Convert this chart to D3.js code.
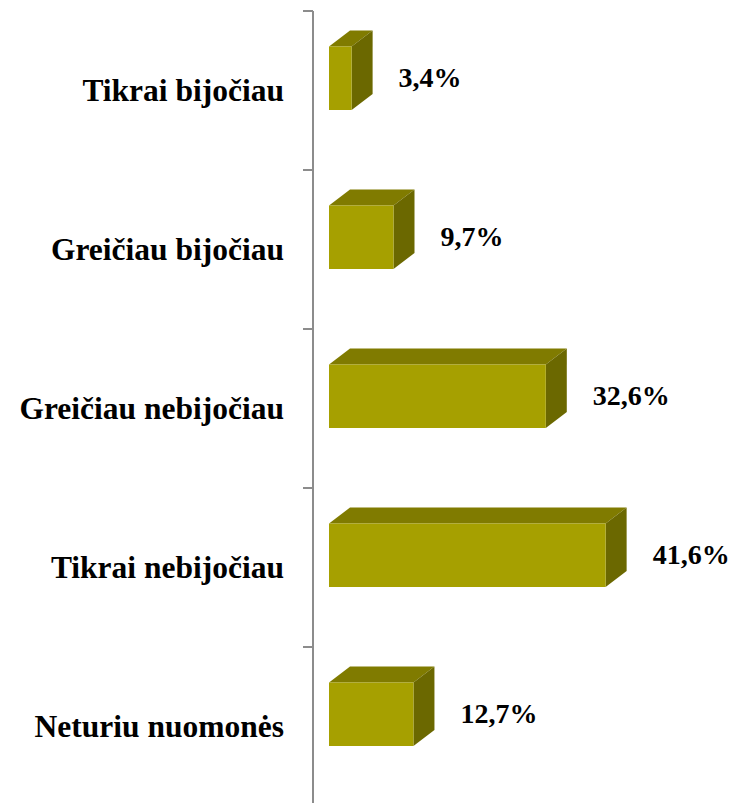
<!DOCTYPE html>
<html>
<head>
<meta charset="utf-8">
<script src="https://cdn.jsdelivr.net/npm/d3@7"></script>
<style>
  html, body { margin: 0; padding: 0; background: #fff; }
  svg { display: block; }
  text { font-family: "Liberation Serif", "Times New Roman", serif; font-weight: 700; }
</style>
</head>
<body>
<div class="chart"></div>
<script>
// Data
const categories = ["Tikrai bijočiau", "Greičiau bijočiau", "Greičiau nebijočiau", "Tikrai nebijočiau", "Neturiu nuomonės"];
const values = [3.4, 9.7, 32.6, 41.6, 12.7];
const valueLabels = ["3,4%", "9,7%", "32,6%", "41,6%", "12,7%"];

// Sizing
const width = 730;
const height = 803;
const axisX = 313;
const depth = {dx: 21, dy: 16};
const barOffset = 35.5, barHeight = 63.5;

const svg = d3.select(".chart").append("svg")
  .attr("width", width)
  .attr("height", height);

// Scales
const xScale = d3.scaleLinear().domain([0, 50]).range([329, 329 + 50 * 6.65]);
const yScale = d3.scaleBand().domain(categories).range([11, 806]).padding(0);

// Category axis (left)
const yAxis = d3.axisLeft(yScale).tickSize(0).tickPadding(0).tickFormat("");
const g_yAxis = svg.append("g")
  .attr("class", "y axis")
  .attr("transform", `translate(${axisX},0)`)
  .call(yAxis);
g_yAxis.select(".domain").attr("stroke", "#8c8c8c").attr("stroke-width", 2)
  .attr("d", `M0,${yScale.range()[0]}V${yScale.range()[1]}`);

// tick marks on band boundaries
const boundaries = categories.map(c => yScale(c)).concat([yScale.range()[1]]);
g_yAxis.selectAll(".bound").data(boundaries).enter()
  .append("line")
  .attr("class", "bound")
  .attr("x1", -10).attr("x2", 0)
  .attr("y1", d => d).attr("y2", d => d)
  .attr("stroke", "#8c8c8c").attr("stroke-width", 2);

// category labels
svg.append("g").selectAll("text").data(categories).enter()
  .append("text")
  .attr("x", 284)
  .attr("y", d => yScale(d) + yScale.bandwidth() / 2 + 10)
  .attr("text-anchor", "end")
  .attr("font-size", 31.5)
  .attr("fill", "#000")
  .text(d => d);

// 3D bars
const rows = categories.map((c, i) => ({key: c, value: values[i], label: valueLabels[i]}));
const bar = svg.append("g").selectAll("g.bar").data(rows).enter()
  .append("g").attr("class", "bar");

const x0 = xScale(0);
const barTop = d => yScale(d.key) + barOffset;

// top face
bar.append("path")
  .attr("fill", "#807b00")
  .attr("d", d => {
    const x1 = xScale(d.value), y = barTop(d);
    return `M${x0},${y}L${x0 + depth.dx},${y - depth.dy}L${x1 + depth.dx},${y - depth.dy}L${x1},${y}Z`;
  });
// side face
bar.append("path")
  .attr("fill", "#6b6800")
  .attr("d", d => {
    const x1 = xScale(d.value), y = barTop(d);
    return `M${x1},${y}L${x1 + depth.dx},${y - depth.dy}L${x1 + depth.dx},${y + barHeight - depth.dy}L${x1},${y + barHeight}Z`;
  });
// front face
bar.append("rect")
  .attr("fill", "#a6a000")
  .attr("x", x0)
  .attr("y", d => barTop(d))
  .attr("width", d => xScale(d.value) - x0)
  .attr("height", barHeight);

// value labels
bar.append("text")
  .attr("x", d => xScale(d.value) + 47)
  .attr("y", d => barTop(d) + barHeight / 2 + 9)
  .attr("font-size", 28)
  .attr("fill", "#000")
  .text(d => d.label);
</script>
</body>
</html>
